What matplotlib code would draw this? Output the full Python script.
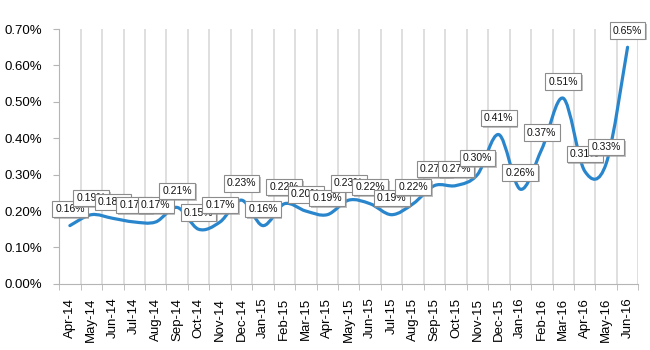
import numpy as np
import matplotlib
matplotlib.use("Agg")
import matplotlib.pyplot as plt
import matplotlib.patheffects as pe
from matplotlib.path import Path
from matplotlib.patches import PathPatch
from matplotlib.ticker import FuncFormatter, FixedLocator

months = ["Apr-14", "May-14", "Jun-14", "Jul-14", "Aug-14", "Sep-14", "Oct-14", "Nov-14",
          "Dec-14", "Jan-15", "Feb-15", "Mar-15", "Apr-15", "May-15", "Jun-15", "Jul-15",
          "Aug-15", "Sep-15", "Oct-15", "Nov-15", "Dec-15", "Jan-16", "Feb-16", "Mar-16",
          "Apr-16", "May-16", "Jun-16"]
rates = [0.16, 0.19, 0.18, 0.17, 0.17, 0.21, 0.15, 0.17, 0.23, 0.16, 0.22, 0.20, 0.19,
         0.23, 0.22, 0.19, 0.22, 0.27, 0.27, 0.30, 0.41, 0.26, 0.37, 0.51, 0.31, 0.33, 0.65]

plt.rcParams["font.family"] = ["Liberation Sans", "DejaVu Sans"]

fig = plt.figure(figsize=(6.5, 3.5), dpi=100)
ax = fig.add_axes([0.091, 0.189, 0.891, 0.728])

x = np.arange(len(rates))
y = np.array(rates)

# smoothed line (Excel style bezier)
verts = [(x[0], y[0])]
codes = [Path.MOVETO]
for i in range(len(x) - 1):
    p0 = (x[i - 1], y[i - 1]) if i > 0 else (x[i], y[i])
    p1 = (x[i], y[i])
    p2 = (x[i + 1], y[i + 1])
    p3 = (x[i + 2], y[i + 2]) if i + 2 < len(x) else p2
    c1 = (p1[0] + (p2[0] - p0[0]) / 6, p1[1] + (p2[1] - p0[1]) / 6)
    c2 = (p2[0] - (p3[0] - p1[0]) / 6, p2[1] - (p3[1] - p1[1]) / 6)
    verts += [c1, c2, p2]
    codes += [Path.CURVE4] * 3
ax.add_patch(PathPatch(Path(verts, codes), fill=False, edgecolor="#2a86cc", lw=2.3,
                       capstyle="round", joinstyle="round", zorder=3))

for xi, yi in zip(x, y):
    t = ax.annotate(f"{yi:.2f}%", (xi, yi), xytext=(0, 12), textcoords="offset points",
                    ha="center", va="center", fontsize=7.5, zorder=5, color="#111111",
                    bbox=dict(boxstyle="square,pad=0.3", fc="white", ec="#8c8c8c", lw=0.8))
    t.get_bbox_patch().set_path_effects([
        pe.SimplePatchShadow(offset=(1.2, -1.2), shadow_rgbFace="#999999", alpha=0.6),
        pe.Normal()])

ax.set_xlim(-0.5, len(x) - 0.5)
ax.set_ylim(0, 0.70)
ax.set_xticks(x)
ax.set_xticklabels(months, rotation=90, fontsize=9.5)
ax.xaxis.set_minor_locator(FixedLocator(np.arange(-0.5, len(x), 1)))
ax.tick_params(axis="x", which="major", length=0, pad=10)
ax.tick_params(axis="x", which="minor", length=4, color="#b5b5b5", direction="out")
ax.set_yticks(np.arange(0, 0.71, 0.1))
ax.yaxis.set_major_formatter(FuncFormatter(lambda v, p: f"{v:.2f}%"))
ax.tick_params(axis="y", labelsize=9.5, length=4, color="#b5b5b5", pad=8)
ax.grid(axis="x", which="minor", color="#d9d9d9", lw=1.2)
ax.set_axisbelow(True)
for s in ["top", "right"]:
    ax.spines[s].set_visible(False)
for s in ["left", "bottom"]:
    ax.spines[s].set_color("#b5b5b5")

fig.savefig("out.png", dpi=100)
